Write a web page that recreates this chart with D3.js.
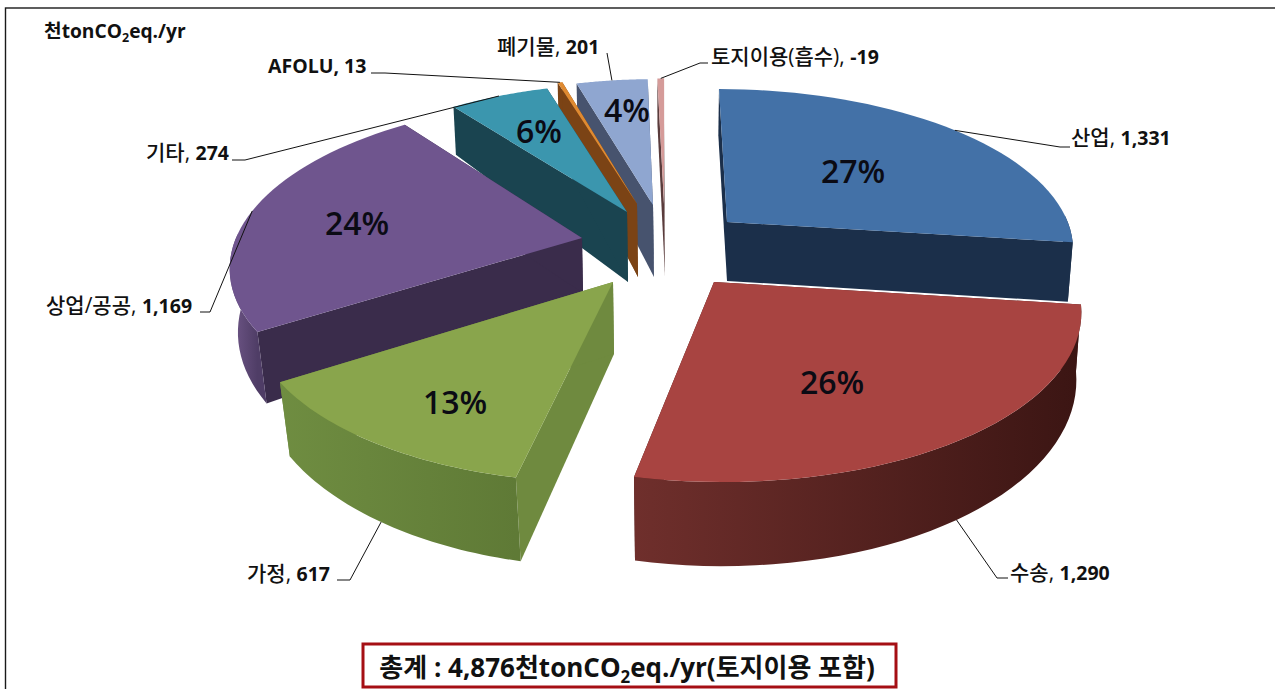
<!DOCTYPE html>
<html><head><meta charset="utf-8">
<script src="https://cdn.jsdelivr.net/npm/d3@7"></script>
<style>html,body{margin:0;padding:0;background:#fff;overflow:hidden}svg{display:block}
text{font-family:"Open Sans","Noto Sans CJK KR",sans-serif;fill:#111}</style></head><body>
<svg id="c" width="1275" height="689"></svg>
<script>
// ---- data ----
const categories = ["산업","수송","가정","상업/공공","기타","AFOLU","폐기물","토지이용(흡수)"];
const values     = [1331,1290,617,1169,274,13,201,-19];
const percents   = ["27%","26%","13%","24%","6%",null,"4%",null];
const unitParts  = ["천tonCO","2","eq./yr"];
const totalParts = ["총계 : 4,876천tonCO","2","eq./yr(토지이용 포함)"];

// ---- styling / layout ----
const topCol  = ["#4371a7","#a84441","#89a54c","#6f558e","#3b96ae","#df8a31","#8fa6d0","#d59b99"];
const wallCol = ["#1b2f4a","#4a1b1a","#6f8a3f","#3a2c4b","#1a4450","#7b4315","#47536e","#5a3c3c"];
const outA    = ["#1b2f4a","#6f2f2c","#6f8d41","#67507f","#1a4450","#7b4315","#47536e","#5a3c3c"];
const outB    = ["#1b2f4a","#3b1513","#5f7a36","#4f3d66","#1a4450","#7b4315","#47536e","#5a3c3c"];
const apexX   = [727,714,613,582,627,637,653,664];
const apexY   = [222,282,282,238,212,204,205,204];
const apexDrop= [59,60,72,55,70,73,72,72];
const heightK = [1,1.03,1.03,1.06,1,1,1,1];
const radiusU = [350,351,347,350,340,335,333,333];
const radiusV = [342,338,339,346,336,335,333,333];
const pctX    = [853,832,455,357,539,null,627,null];
const pctY    = [170,381,401,222,130,null,109,null];
const labX    = [1071,1010,247,46,146,268,497,711];
const labY    = [137,572,573,305,152,65,46,56];
const leadA   = [[1060,147],[997,578],[350,580],[210,312],[245,160],[385,73],[607,53],[700,63]];
const leadB   = [[1070,147],[1008,578],[337,580],[200,312],[232,160],[371,73],[607,53],[708,63]];
const leadLow = [false,true,true,false,false,false,false,false];
const paint   = [7,6,5,4,3,0,2,1];

const xc=665, yc=250, K=0.471, Q=0.000446, H=60;
const sc = V => 1/(1-Q*V);
function toPlane(ax,ay){const vs=(ay-yc)/K, V=vs/(1+Q*vs); return {U:(ax-xc)/sc(V),V};}
function proj(U,V){const s=sc(V); return [xc+U*s, yc+K*V*s];}
function down(pt,V,hk){const s=sc(V), dx=pt[0]-xc, f=dx>0?0.012:0.018*s*s*s;
  return [xc+dx*(1-f), pt[1]+H*hk*Math.pow(s,1.55)];}

const svg = d3.select("#c");
const line = d3.line();
const pie = d3.pie().sort(null).value(d=>Math.abs(d)).startAngle(0).endAngle(2*Math.PI)(values);

svg.append("rect").attr("x",5.5).attr("y",8).attr("width",1290).attr("height",720)
  .attr("fill","#fff").attr("stroke","#1a1a1a").attr("stroke-width",1.4);

const defs = svg.append("defs");
const rimPts = [];
pie.forEach((d,i)=>{
  const o = toPlane(apexX[i],apexY[i]);
  rimPts[i] = a => proj(o.U+radiusU[i]*Math.sin(a), o.V-radiusV[i]*Math.cos(a));
  d.o=o; d.Vr = a => o.V-radiusV[i]*Math.cos(a);
  d.arc = d3.range(0,41).map(t=>d.startAngle+(d.endAngle-d.startAngle)*t/40);
  d.mid = (d.startAngle+d.endAngle)/2;
});

paint.forEach(i=>{
  const d=pie[i], rim=rimPts[i], g=svg.append("g");
  const apex=proj(d.o.U,d.o.V), apexB=[apex[0]+(apex[0]<xc?1:0),apex[1]+apexDrop[i]];
  const wall=a=>[apex,rim(a),down(rim(a),d.Vr(a),heightK[i]),apexB];
  g.append("path").attr("d",line(wall(d.startAngle))+"Z").attr("fill",wallCol[i]);
  g.append("path").attr("d",line(wall(d.endAngle))+"Z").attr("fill",wallCol[i]);
  const front=d.arc.filter(a=>Math.cos(a)<0.05);
  if(front.length>1){
    const gid="g"+i, p0=rim(front[0]), p1=rim(front[front.length-1]);
    const gr=defs.append("linearGradient").attr("id",gid).attr("gradientUnits","userSpaceOnUse")
      .attr("x1",p0[0]<p1[0]?p0[0]:p1[0]).attr("x2",p0[0]<p1[0]?p1[0]:p0[0]).attr("y1",0).attr("y2",0);
    gr.append("stop").attr("offset",0).attr("stop-color",outA[i]);
    gr.append("stop").attr("offset",1).attr("stop-color",outB[i]);
    const upper=front.map(rim), lower=front.map(a=>down(rim(a),d.Vr(a),heightK[i])).reverse();
    g.append("path").attr("d",line(upper.concat(lower))+"Z").attr("fill",`url(#${gid})`);
  }
  g.append("path").attr("d",line([apex].concat(d.arc.map(rim)))+"Z").attr("fill",topCol[i]);
});

// leader lines
pie.forEach((d,i)=>{
  const r=rimPts[i](d.mid), end=leadLow[i]?down(r,d.Vr(d.mid),heightK[i]):r;
  svg.append("path").attr("fill","none").attr("stroke","#111").attr("stroke-width",1)
    .attr("d",line([leadB[i],leadA[i],end]));
});

// percent labels
percents.forEach((t,i)=>{ if(t)
  svg.append("text").attr("x",pctX[i]).attr("y",pctY[i]).attr("text-anchor","middle")
   .attr("dominant-baseline","central").attr("font-size",32).attr("font-weight",600).style("fill","#0b0b14").text(t);
});
// data labels
categories.forEach((c,i)=>{
  const t=svg.append("text").attr("x",labX[i]).attr("y",labY[i]).attr("dominant-baseline","central");
  t.append("tspan").attr("font-weight",c==="AFOLU"?700:500).attr("font-size",c==="AFOLU"?19.5:21).text(c+", ");
  t.append("tspan").attr("font-weight",700).attr("font-size",19.5).text(d3.format(",")(values[i]).replace("−","-"));
});
// rich text helper
function rich(x,y,parts,size,anchor,weight){
  const t=svg.append("text").attr("x",x).attr("y",y).attr("font-size",size).attr("font-weight",weight).attr("text-anchor",anchor);
  t.append("tspan").text(parts[0]);
  t.append("tspan").attr("font-size",size*0.65).attr("dy",size*0.22).text(parts[1]);
  t.append("tspan").attr("dy",-size*0.22).text(parts[2]);
}
rich(44,38,unitParts,19.2,"start",700);
svg.append("rect").attr("x",363).attr("y",644).attr("width",533).attr("height",43)
  .attr("fill","#fff").attr("stroke","#a50f14").attr("stroke-width",3);
rich(627,677,totalParts,26,"middle",700);
</script></body></html>
